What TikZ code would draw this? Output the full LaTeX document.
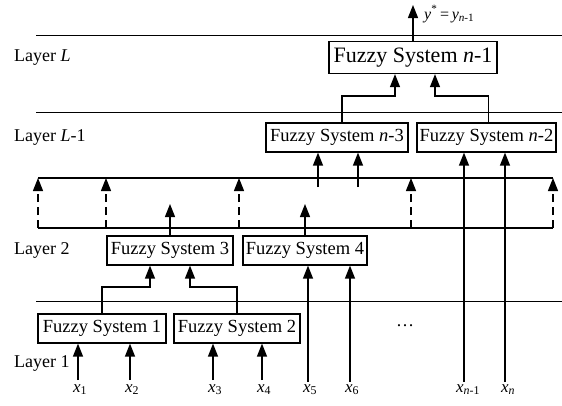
\documentclass[tikz,border=0pt]{standalone}
\usepackage{fontspec}
\setmainfont{Liberation Serif}
\usetikzlibrary{arrows.meta}
\begin{document}
\begin{tikzpicture}[x=1pt,y=-1pt,
  fs/.style={draw, line width=1.2pt, inner sep=0pt, minimum height=29pt, font=\fontsize{18.5}{20}\selectfont},
  lab/.style={anchor=west, inner sep=0pt, font=\fontsize{18}{20}\selectfont},
  arr/.style={line width=1.3pt, -{Triangle[length=13pt,width=10pt]}},
  sep/.style={line width=0.9pt},
  busline/.style={line width=1.3pt},
  dsh/.style={line width=1.3pt, dash pattern=on 8pt off 5pt, -{Triangle[length=13pt,width=10pt]}},
  xl/.style={anchor=north, inner sep=0pt, font=\fontsize{17}{19}\selectfont}]

\useasboundingbox (0,0) rectangle (562,405);

% separators
\coordinate (s1a) at (36,35);  \coordinate (s1b) at (562,35);
\coordinate (s2a) at (36,112); \coordinate (s2b) at (562,112);
\coordinate (s3a) at (36,301); \coordinate (s3b) at (562,301);
\draw[sep] (s1a) -- (s1b);
\draw[sep] (s2a) -- (s2b);
\draw[sep] (s3a) -- (s3b);

% layer labels
\node[lab] (lL)  at (14,57.5)  {Layer \textit{L}};
\node[lab] (lL1) at (14,137.5) {Layer \textit{L}-1};
\node[lab] (l2)  at (14,250.5) {Layer 2};
\node[lab] (l1)  at (14,363)   {Layer 1};

% fuzzy systems
\node[fs, minimum width=168pt, minimum height=32pt, font=\fontsize{22}{24}\selectfont] (fsn1) at (413,57.5) {Fuzzy System \textit{n}-1};
\node[fs, minimum width=142pt] (fsn3) at (337,137.5) {Fuzzy System \textit{n}-3};
\node[fs, minimum width=139pt] (fsn2) at (486.5,137.5) {Fuzzy System \textit{n}-2};
\node[fs, minimum width=126pt] (fs3) at (170,250.5) {Fuzzy System 3};
\node[fs, minimum width=124pt] (fs4) at (305,250.5) {Fuzzy System 4};
\node[fs, minimum width=128pt] (fs1) at (102,328.5) {Fuzzy System 1};
\node[fs, minimum width=126pt] (fs2) at (237,328.5) {Fuzzy System 2};

% output
\coordinate (yout) at (413,5);
\draw[arr] (fsn1.north) -- (yout);
\node[anchor=west, inner sep=0pt, font=\fontsize{16}{18}\selectfont] (ylab) at (424,14)
  {\textit{y}\textsuperscript{*}\,=\,\textit{y}\textsubscript{\textit{n}-1}};

% connectors into FS n-1
\coordinate (hL) at (0,96);
\coordinate (tn1a) at ([xshift=-18pt]fsn1.south);
\coordinate (tn1b) at ([xshift=22pt]fsn1.south);
\coordinate (fn3t) at ([xshift=5pt]fsn3.north);
\coordinate (fn2t) at ([xshift=2pt]fsn2.north);
\draw[arr] (fn3t) |- (tn1a |- hL) -- (tn1a);
\draw[arr] (fn2t) |- (tn1b |- hL) -- (tn1b);

% bus
\coordinate (btl) at (38,178); \coordinate (btr) at (553,178);
\coordinate (bbl) at (38,228); \coordinate (bbr) at (553,228);
\draw[busline] (btl) -- (btr);
\draw[busline] (bbl) -- (bbr);
\foreach \bx/\nm in {38/d1,106/d2,239/d3,411/d4,553/d5}{
  \coordinate (\nm b) at (\bx,228);
  \coordinate (\nm t) at (\bx,178);
  \draw[dsh] (\nm b) -- (\nm t);
}

% bus into FS n-3
\coordinate (u1) at (318,187);
\coordinate (u2) at (358,187);
\draw[arr] (u1) -- (u1 |- fsn3.south);
\draw[arr] (u2) -- (u2 |- fsn3.south);

% outputs of FS3, FS4 into bus
\coordinate (o3) at (170,204);
\draw[arr] (fs3.north) -- (o3);
\draw[arr] (fs4.north) -- (fs4.north |- o3);

% FS1, FS2 into FS3
\coordinate (hM) at (0,287);
\coordinate (t3a) at ([xshift=-20pt]fs3.south);
\coordinate (t3b) at ([xshift=20pt]fs3.south);
\draw[arr] (fs1.north) |- (t3a |- hM) -- (t3a);
\draw[arr] (fs2.north) |- (t3b |- hM) -- (t3b);

% inputs
\coordinate (x1) at (78,380);
\coordinate (x2) at (130,380);
\coordinate (x3) at (213,380);
\coordinate (x4) at (262,380);
\coordinate (x5) at (308,382);
\coordinate (x6) at (350,382);
\coordinate (xm) at (464,382);
\coordinate (xn) at (505,382);
\draw[arr] (x1) -- (x1 |- fs1.south);
\draw[arr] (x2) -- (x2 |- fs1.south);
\draw[arr] (x3) -- (x3 |- fs2.south);
\draw[arr] (x4) -- (x4 |- fs2.south);
\draw[arr] (x5) -- (x5 |- fs4.south);
\draw[arr] (x6) -- (x6 |- fs4.south);
\draw[arr] (xm) -- (xm |- fsn2.south);
\draw[arr] (xn) -- (xn |- fsn2.south);

\node[xl] (lx1) at (80,384) {\textit{x}\textsubscript{1}};
\node[xl] (lx2) at (132,384) {\textit{x}\textsubscript{2}};
\node[xl] (lx3) at (215,384) {\textit{x}\textsubscript{3}};
\node[xl] (lx4) at (264,384) {\textit{x}\textsubscript{4}};
\node[xl] (lx5) at (310,384) {\textit{x}\textsubscript{5}};
\node[xl] (lx6) at (352,384) {\textit{x}\textsubscript{6}};
\node[xl] (lxm) at (468,384) {\textit{x}\textsubscript{\textit{n}-1}};
\node[xl] (lxn) at (508,384) {\textit{x}\textsubscript{\textit{n}}};

\node[font=\fontsize{18}{20}\selectfont] (dots) at (405,326) {\dots};
\end{tikzpicture}
\end{document}
